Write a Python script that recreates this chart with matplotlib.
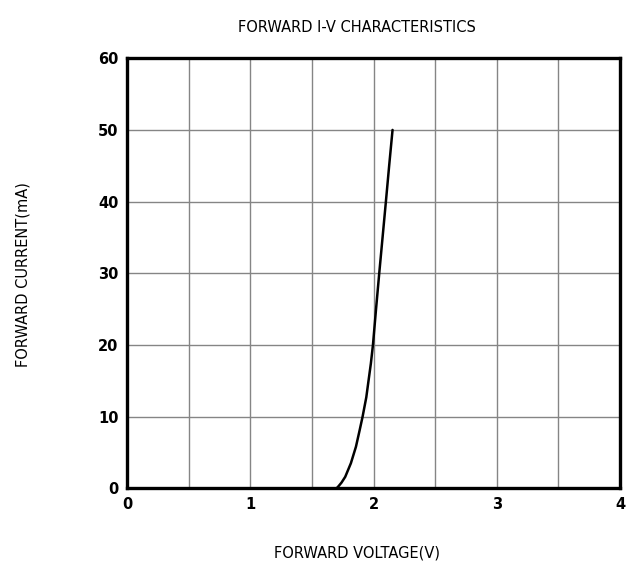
import matplotlib
matplotlib.use('Agg')
import matplotlib.pyplot as plt

# forward voltage (V) vs forward current (mA)
voltage = [1.70, 1.716, 1.740, 1.770, 1.816, 1.857, 1.887, 1.911, 1.941, 1.959,
           1.978, 1.995, 2.020, 2.046, 2.073, 2.100, 2.127, 2.154]
current = [0.0, 0.3, 0.8, 1.6, 3.5, 5.8, 8.1, 10.0, 12.7, 15.0,
           17.4, 20.0, 25.0, 30.0, 35.0, 40.0, 45.1, 50.0]

x_ticks = [0, 1, 2, 3, 4]
y_ticks = [0, 10, 20, 30, 40, 50, 60]

plt.rcParams['font.family'] = ['Liberation Sans Narrow', 'DejaVu Sans']

fig = plt.figure(figsize=(6.27, 5.71), dpi=100)
ax = fig.add_axes([0.2026, 0.1448, 0.7864, 0.7532])

ax.plot(voltage, current, color='black', linewidth=1.8, solid_capstyle='round', solid_joinstyle='round')

ax.set_xlim(0, 4)
ax.set_ylim(0, 60)
ax.set_xticks(x_ticks)
ax.set_yticks(y_ticks)
ax.set_xticks([0.5, 1.5, 2.5, 3.5], minor=True)
ax.grid(True, which='both', color='#858585', linewidth=1.0)
ax.tick_params(which='both', length=0, labelsize=10.5, pad=6)
for lab in ax.get_xticklabels() + ax.get_yticklabels():
    lab.set_fontweight('bold')

for s in ax.spines.values():
    s.set_linewidth(2.4)
    s.set_color('black')

fig.text(0.57, 0.951, 'FORWARD I-V CHARACTERISTICS', ha='center', va='center', fontsize=10.5)
fig.text(0.57, 0.032, 'FORWARD VOLTAGE(V)', ha='center', va='center', fontsize=10.5)
fig.text(0.036, 0.52, 'FORWARD CURRENT(mA)', ha='center', va='center', rotation=90, fontsize=10.5)

fig.savefig('out.png', dpi=100)
